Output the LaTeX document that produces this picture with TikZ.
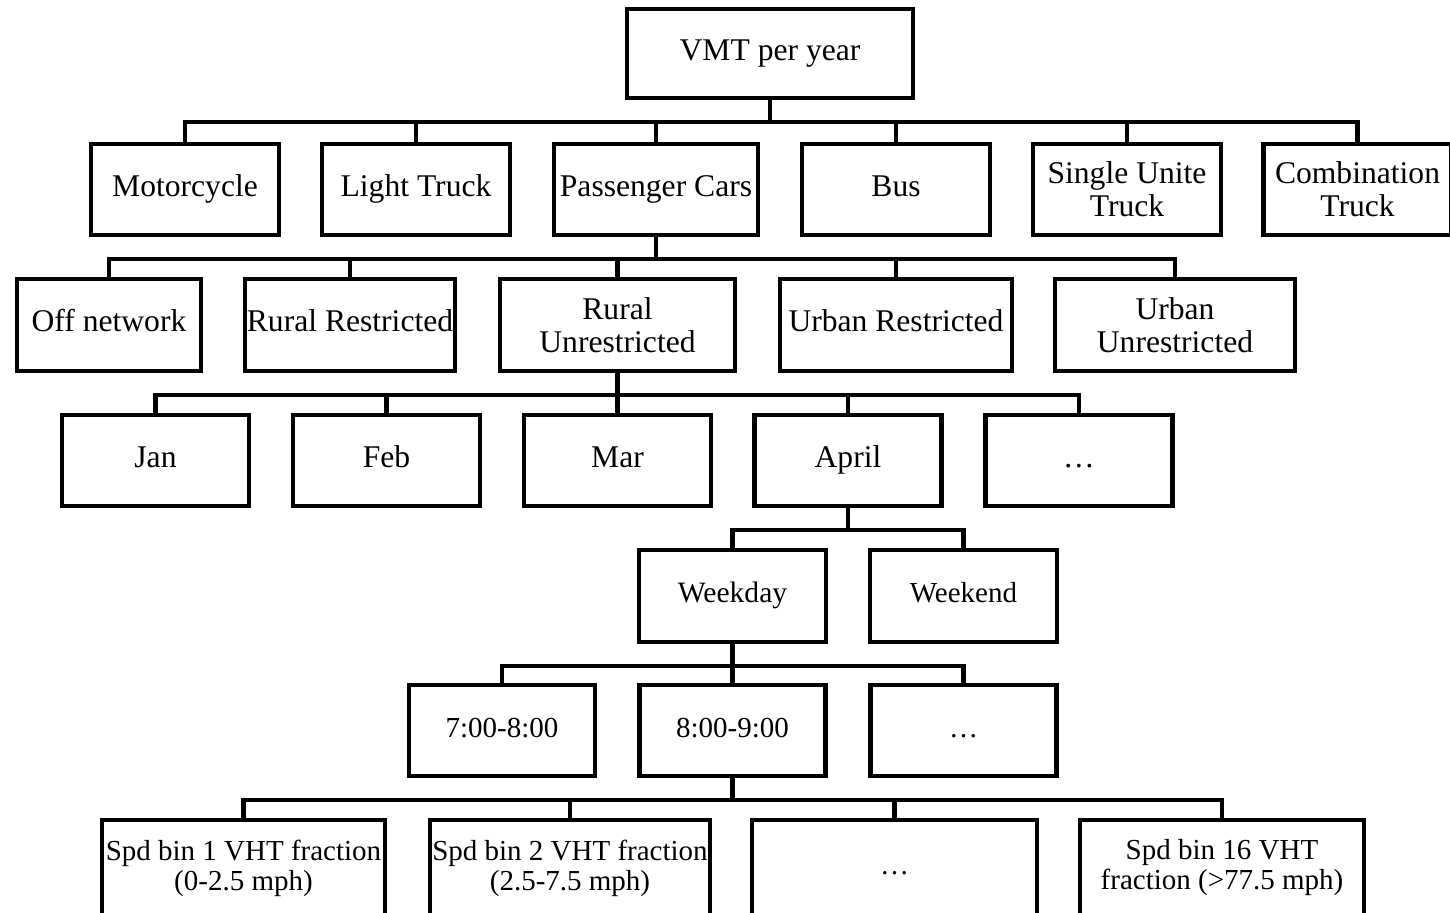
\documentclass[tikz,border=0pt]{standalone}
\usepackage{fontspec}
\setmainfont{Liberation Serif}
\tikzset{
  box/.style={draw, line width=2.1pt, inner sep=0pt, align=center, minimum height=45.5pt,
    font=\fontsize{15.8}{16.5}\selectfont},
  sbox/.style={box, font=\fontsize{14.5}{15}\selectfont},
  one/.style={text height=0.78em, text depth=0.1em},
  conn/.style={line width=2.1pt},
}
\begin{document}
\begin{tikzpicture}[x=0.5pt,y=-0.5pt]
\useasboundingbox (0,0) rectangle (1450,913);
% row 0
\node[box,one,minimum width=143pt,minimum height=44.5pt] (vmt) at (770,53.5) {VMT per year};
% row 1
\node[box,one,minimum width=94pt] (moto) at (185,189.5) {Motorcycle};
\node[box,one,minimum width=94pt] (light) at (416,189.5) {Light Truck};
\node[box,one,minimum width=102pt] (pc) at (656,189.5) {Passenger Cars};
\node[box,one,minimum width=94pt] (bus) at (896,189.5) {Bus};
\node[box,minimum width=94pt] (sut) at (1127,189.5) {Single Unite\\Truck};
\node[box,minimum width=94pt] (comb) at (1357.5,189.5) {Combination\\Truck};
% row 2
\node[box,one,minimum width=92pt,minimum height=46pt] (off) at (109,325) {Off network};
\node[box,one,minimum width=105pt,minimum height=46pt] (rr) at (350,325) {Rural Restricted};
\node[box,minimum width=117.5pt,minimum height=46pt] (ru) at (617.5,325) {Rural\\Unrestricted};
\node[box,one,minimum width=116pt,minimum height=46pt] (ur) at (896,325) {Urban Restricted};
\node[box,minimum width=120pt,minimum height=46pt] (uu) at (1175,325) {Urban\\Unrestricted};
% row 3
\node[box,one,minimum width=93.5pt] (jan) at (155.5,460.5) {Jan};
\node[box,one,minimum width=93.5pt] (feb) at (386.5,460.5) {Feb};
\node[box,one,minimum width=93.5pt] (mar) at (617.5,460.5) {Mar};
\node[box,one,minimum width=93.5pt] (apr) at (848,460.5) {April};
\node[box,one,minimum width=93.5pt] (mmore) at (1079,460.5) {…};
% row 4
\node[sbox,one,minimum width=93.5pt,minimum height=46pt,font=\fontsize{14.8}{15}\selectfont] (wd) at (732.5,596) {Weekday};
\node[sbox,one,minimum width=93.5pt,minimum height=46pt] (we) at (963.5,596) {Weekend};
% row 5
\node[sbox,one,minimum width=93pt] (h1) at (502,730.5) {7:00-8:00};
\node[sbox,one,minimum width=93pt] (h2) at (732.5,730.5) {8:00-9:00};
\node[sbox,one,minimum width=93pt] (h3) at (963.5,730.5) {…};
% row 6
\node[sbox,minimum width=141.5pt,minimum height=48pt] (s1) at (243.5,868) {Spd bin 1 VHT fraction\\(0-2.5 mph)};
\node[sbox,minimum width=140pt,minimum height=48pt] (s2) at (570,868) {Spd bin 2 VHT fraction\\(2.5-7.5 mph)};
\node[sbox,one,minimum width=142.5pt,minimum height=48pt] (s3) at (894.5,868) {…};
\node[sbox,minimum width=142pt,minimum height=48pt] (s16) at (1222,868) {Spd bin 16 VHT\\fraction (>77.5 mph)};
% connectors
\foreach \c in {moto,light,pc,bus,sut,comb} \draw[conn] (vmt.south) -- ++(0,-11pt) -| (\c.north);
\foreach \c in {off,rr,ru,ur,uu} \draw[conn] (pc.south) -- ++(0,-11pt) -| (\c.north);
\foreach \c in {jan,feb,mar,apr,mmore} \draw[conn] (ru.south) -- ++(0,-11pt) -| (\c.north);
\foreach \c in {wd,we} \draw[conn] (apr.south) -- ++(0,-11pt) -| (\c.north);
\foreach \c in {h1,h2,h3} \draw[conn] (wd.south) -- ++(0,-11pt) -| (\c.north);
\foreach \c in {s1,s2,s3,s16} \draw[conn] (h2.south) -- ++(0,-11pt) -| (\c.north);
\end{tikzpicture}
\end{document}
